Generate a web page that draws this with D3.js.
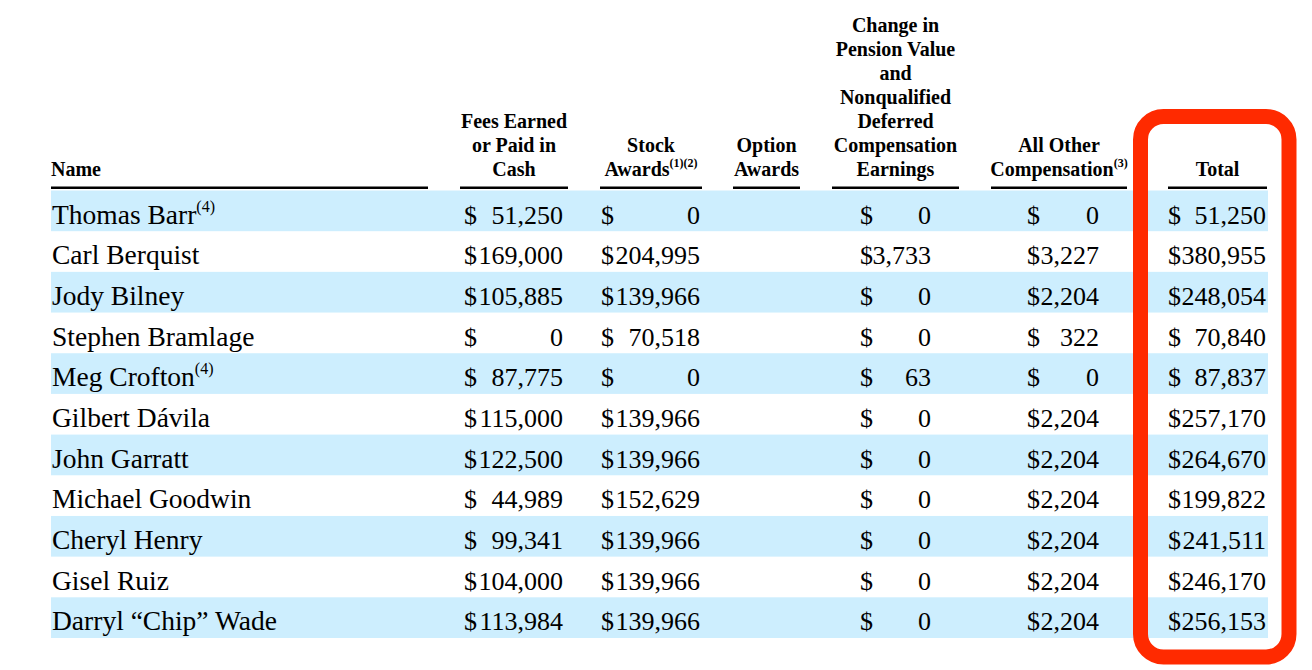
<!DOCTYPE html>
<html>
<head>
<meta charset="utf-8">
<script src="https://cdn.jsdelivr.net/npm/d3@7"></script>
<style>
  body { margin: 0; background: #fff; }
  text { font-family: "Liberation Serif", "Times New Roman", serif; fill: #000; }
</style>
</head>
<body>
<script>
// table values
var names = ["Thomas Barr", "Carl Berquist", "Jody Bilney", "Stephen Bramlage", "Meg Crofton",
  "Gilbert Dávila", "John Garratt", "Michael Goodwin", "Cheryl Henry", "Gisel Ruiz", "Darryl “Chip” Wade"];
var nameNotes = ["(4)", "", "", "", "(4)", "", "", "", "", "", ""];
var feesCash = [51250, 169000, 105885, 0, 87775, 115000, 122500, 44989, 99341, 104000, 113984];
var stockAwards = [0, 204995, 139966, 70518, 0, 139966, 139966, 152629, 139966, 139966, 139966];
var optionAwards = [null, null, null, null, null, null, null, null, null, null, null];
var pensionChange = [0, 3733, 0, 0, 63, 0, 0, 0, 0, 0, 0];
var otherComp = [0, 3227, 2204, 322, 0, 2204, 2204, 2204, 2204, 2204, 2204];
var totals = [51250, 380955, 248054, 70840, 87837, 257170, 264670, 199822, 241511, 246170, 256153];

var headNames = ["Fees Earned|or Paid in|Cash", "Stock|Awards", "Option|Awards",
  "Change in|Pension Value|and|Nonqualified|Deferred|Compensation|Earnings", "All Other|Compensation", "Total"];
var headNotes = ["", "(1)(2)", "", "", "(3)", ""];

var w = 1312, h = 670;
var svg = d3.select("body").append("svg")
    .attr("width", w)
    .attr("height", h);

// column layout (line extents, dollar sign left, value right)
var cols = [
  {x0: 460, x1: 568, dol: 464, right: 563, values: feesCash},
  {x0: 600, x1: 702, dol: 601, right: 700, values: stockAwards},
  {x0: 733, x1: 800, dol: 733, right: 800, values: optionAwards},
  {x0: 832, x1: 959, dol: 860, right: 931, values: pensionChange},
  {x0: 991, x1: 1127, dol: 1027, right: 1099, values: otherComp},
  {x0: 1168, x1: 1267, dol: 1168, right: 1266, values: totals}
];

var y = d3.scaleBand()
    .domain(d3.range(names.length))
    .range([190.5, 638]);

var fmt = d3.format(",");

// striped rows
svg.append("g").selectAll("rect")
    .data(d3.range(names.length).filter(function(i) { return i % 2 == 0; }))
    .enter().append("rect")
    .attr("x", 51)
    .attr("y", function(i) { return y(i); })
    .attr("width", 1268 - 51)
    .attr("height", y.bandwidth())
    .style("fill", "#cdeefe");

// header
var head = svg.append("g").attr("class", "head");
var headBase = 176, lineH = 24;

head.append("text")
    .attr("x", 51)
    .attr("y", headBase)
    .style("font-weight", "bold")
    .style("font-size", "20px")
    .text("Name");
head.append("rect")
    .attr("x", 51).attr("y", 186.5)
    .attr("width", 428 - 51).attr("height", 2.5)
    .style("fill", "#000");

cols.forEach(function(c, i) {
  var lines = headNames[i].split("|");
  var cx = (c.x0 + c.x1) / 2;
  lines.forEach(function(l, j) {
    var t = head.append("text")
        .attr("x", cx)
        .attr("y", headBase - (lines.length - 1 - j) * lineH)
        .attr("text-anchor", "middle")
        .style("font-weight", "bold")
        .style("font-size", "20px");
    t.append("tspan").text(l);
    if (j == lines.length - 1 && headNotes[i]) {
      t.append("tspan")
          .attr("dy", -9)
          .style("font-size", "12px")
          .text(headNotes[i]);
    }
  });
  head.append("rect")
      .attr("x", c.x0).attr("y", 186.5)
      .attr("width", c.x1 - c.x0).attr("height", 2.5)
      .style("fill", "#000");
});

// body rows
var rows = svg.append("g").selectAll("g")
    .data(d3.range(names.length))
    .enter().append("g")
    .attr("transform", function(i) { return "translate(0," + (y(i) + 33) + ")"; });

var nm = rows.append("text")
    .attr("x", 52)
    .style("font-size", "27.5px");
nm.append("tspan").text(function(i) { return names[i]; });
nm.append("tspan")
    .attr("dy", -12)
    .style("font-size", "16px")
    .text(function(i) { return nameNotes[i]; });

cols.forEach(function(c) {
  var cell = rows.filter(function(i) { return c.values[i] != null; });
  cell.append("text")
      .attr("x", c.dol)
      .style("font-size", "26px")
      .text("$");
  cell.append("text")
      .attr("x", c.right)
      .attr("text-anchor", "end")
      .style("font-size", "26px")
      .text(function(i) { return fmt(c.values[i]); });
});

// highlight box around the Total column
svg.append("rect")
    .attr("x", 1140.5)
    .attr("y", 116.5)
    .attr("width", 1289 - 1140.5)
    .attr("height", 657 - 116.5)
    .attr("rx", 23)
    .style("fill", "none")
    .style("stroke", "#ff2a00")
    .style("stroke-width", 15);
</script>
</body>
</html>
